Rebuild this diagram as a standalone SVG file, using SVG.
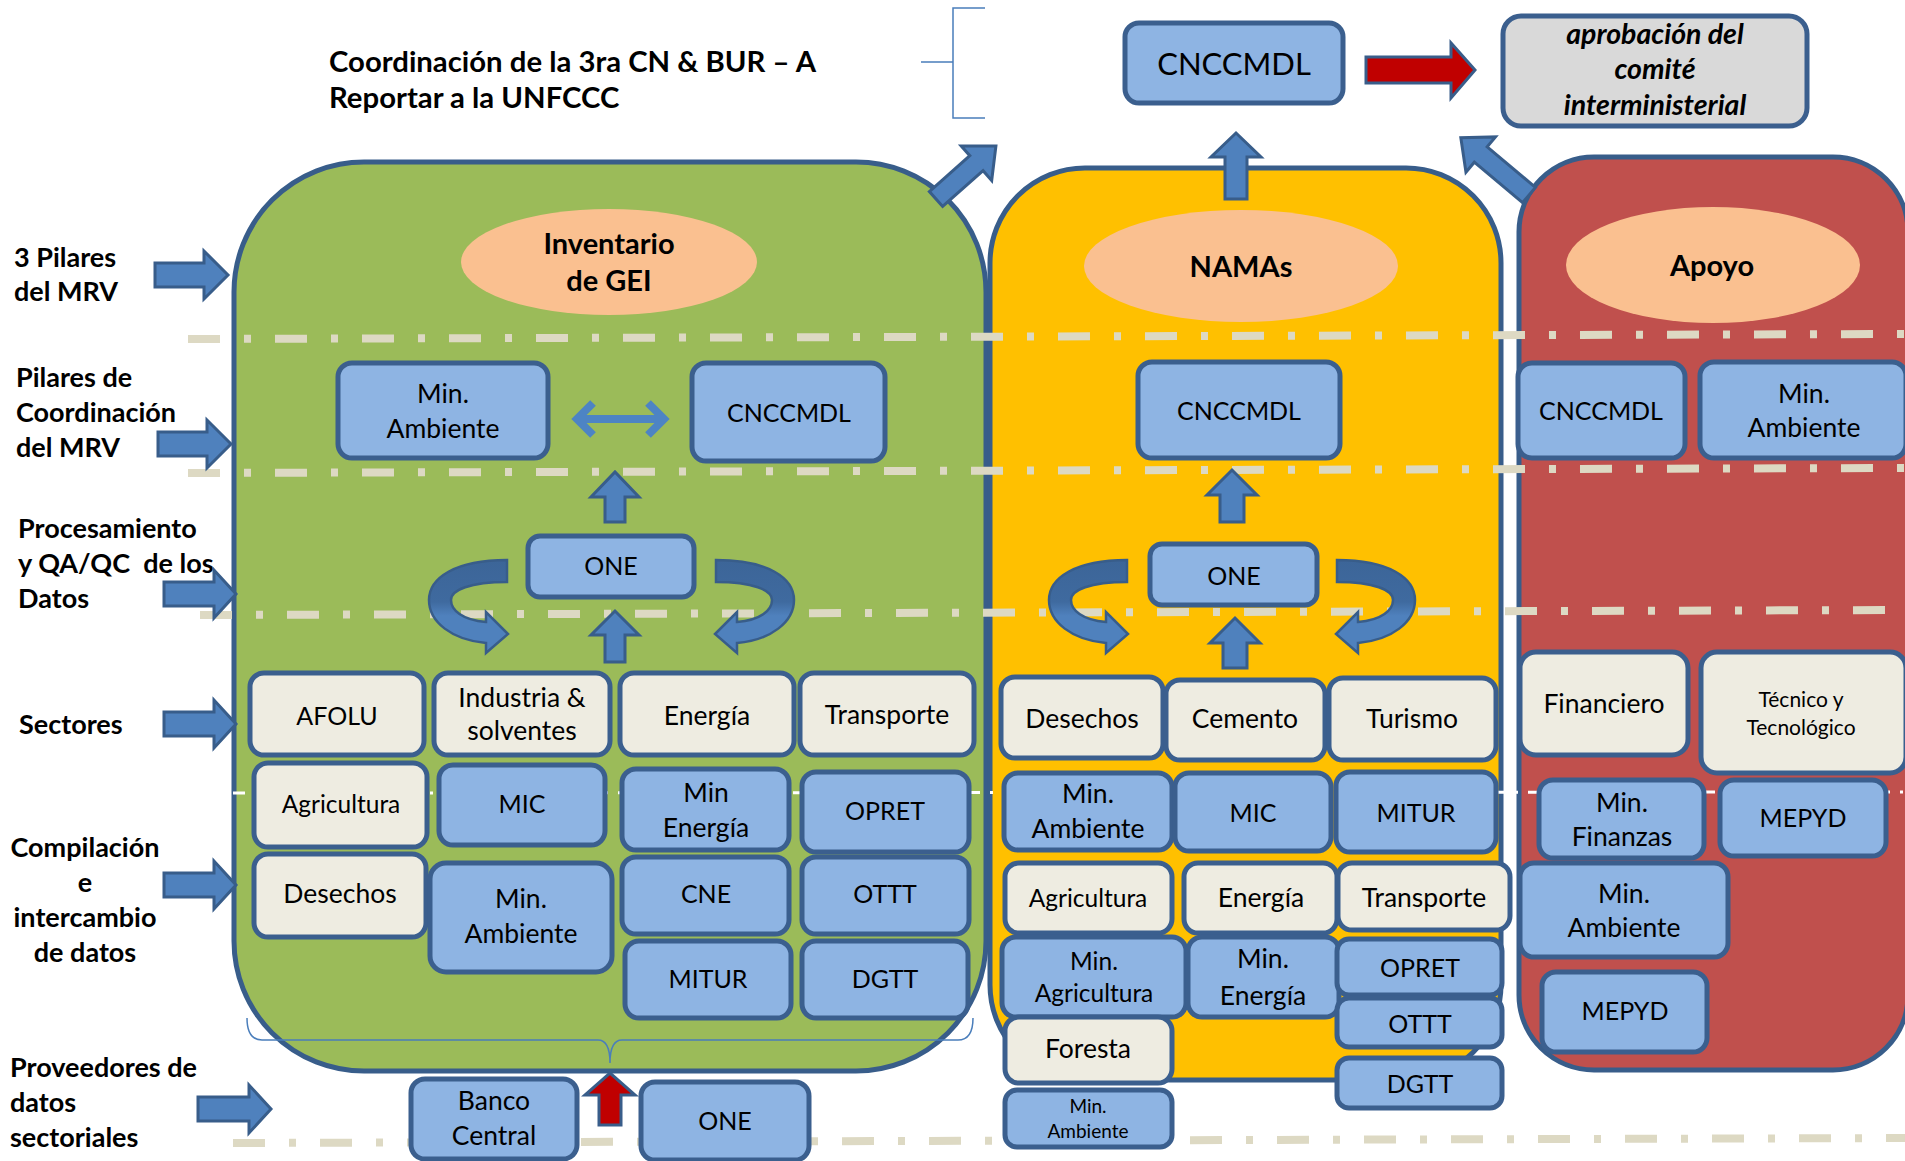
<svg xmlns="http://www.w3.org/2000/svg" width="1905" height="1161" viewBox="0 0 1905 1161">
<style>
.box{fill:#8eb4e3;stroke:#3b5f8e;stroke-width:5}
.beige{fill:#eeece1;stroke:#3b5f8e;stroke-width:5}
.t{font-family:Lato,"Open Sans","Liberation Sans",sans-serif;font-size:26.5px;text-anchor:middle;fill:#000}
.c{font-size:25px}
.s22{font-size:24.5px}
.s20{font-size:21px}
.s19{font-size:19px}
.lbl{font-family:Lato,"Open Sans","Liberation Sans",sans-serif;font-weight:bold;font-size:27px;fill:#000}
.ell{font-size:29px}
.sep{stroke:#ddd9c3;stroke-width:8;stroke-dasharray:32 24 7 24;fill:none}
.arr{fill:#4f81bd;stroke:#385d8a;stroke-width:3}
.red{fill:#c00000;stroke:#385d8a;stroke-width:3}
.brk{fill:none;stroke:#4a7ebb;stroke-width:1.5}
.panel{stroke:#385d8a;stroke-width:5}
.ap{font-weight:bold;font-style:italic;font-size:28.5px}
</style>
<defs>
<linearGradient id="cg" x1="0" y1="0" x2="0" y2="1">
<stop offset="0" stop-color="#3c6598"/>
<stop offset="0.45" stop-color="#3f6a9f"/>
<stop offset="0.6" stop-color="#4f81bd"/>
<stop offset="1" stop-color="#4f81bd"/>
</linearGradient>
<path id="curv" d="M0,0 C-52,0 -78,18 -78,40 C-78,62 -55,80 -21,83 L-21,93 L1,74 L-21,52 L-21,62 C-45,60 -56,50 -56,40 C-56,30 -37,22 0,22 Z" fill="url(#cg)" stroke="#385d8a" stroke-width="2.5"/>
</defs>
<rect width="1905" height="1161" fill="#fff"/>

<!-- title -->
<g id="title">
<text class="lbl" x="329" y="72" style="font-size:29.3px">Coordinación de la 3ra CN &amp; BUR – A</text>
<text class="lbl" x="329" y="108" style="font-size:29.3px">Reportar a la UNFCCC</text>
</g>

<!-- left labels -->
<g id="labels">
<text class="lbl" x="14" y="267">3 Pilares</text>
<text class="lbl" x="14" y="301">del MRV</text>
<text class="lbl" x="16" y="387">Pilares de</text>
<text class="lbl" x="16" y="422">Coordinación</text>
<text class="lbl" x="16" y="457">del MRV</text>
<text class="lbl" x="18" y="538">Procesamiento</text>
<text class="lbl" x="18" y="573" xml:space="preserve">y QA/QC  de los</text>
<text class="lbl" x="18" y="608">Datos</text>
<text class="lbl" x="19" y="734">Sectores</text>
<text class="lbl" x="85" y="857" text-anchor="middle">Compilación</text>
<text class="lbl" x="85" y="892" text-anchor="middle">e</text>
<text class="lbl" x="85" y="927" text-anchor="middle">intercambio</text>
<text class="lbl" x="85" y="962" text-anchor="middle">de datos</text>
<text class="lbl" x="10" y="1077">Proveedores de</text>
<text class="lbl" x="10" y="1112">datos</text>
<text class="lbl" x="10" y="1147">sectoriales</text>
</g>

<!-- panels -->
<g id="panel-gei"><rect class="panel" x="234" y="162" width="752" height="909" rx="130" fill="#9bbb59"/></g>
<g id="panel-namas"><rect class="panel" x="990" y="168" width="511" height="912" rx="95" fill="#ffc000"/></g>
<g id="panel-apoyo"><rect class="panel" x="1519" y="157" width="389" height="913" rx="75" fill="#c0504d"/></g>

<!-- separators -->
<g id="separators">
<line class="sep" x1="188" y1="339" x2="1905" y2="334"/>
<line class="sep" x1="188" y1="473" x2="1905" y2="468"/>
<line class="sep" x1="200" y1="615" x2="1905" y2="610"/>
<line x1="233" y1="793" x2="1905" y2="792" stroke="#fff" stroke-width="3" stroke-dasharray="12 10 3 10"/>
<line class="sep" x1="233" y1="1143" x2="1905" y2="1138"/>
</g>

<!-- ellipses -->
<g id="ell-gei"><ellipse cx="609" cy="262" rx="148" ry="53" fill="#fac090"/>
<text class="lbl ell" x="609" y="254" text-anchor="middle">Inventario</text>
<text class="lbl ell" x="609" y="291" text-anchor="middle">de GEI</text></g>
<g id="ell-namas"><ellipse cx="1241" cy="266" rx="157" ry="56" fill="#fac090"/>
<text class="lbl ell" x="1241" y="277" text-anchor="middle">NAMAs</text></g>
<g id="ell-apoyo"><ellipse cx="1713" cy="265" rx="147" ry="58" fill="#fac090"/>
<text class="lbl ell" x="1712" y="276" text-anchor="middle">Apoyo</text></g>

<!-- connectors -->
<g id="connectors">
<path class="brk" d="M985,8 H953 V118 H985 M921,62 H953"/>
<path class="brk" d="M247,1018 Q247,1040 262,1040 H598 Q610,1040 610,1063 Q610,1040 622,1040 H958 Q973,1040 973,1018"/>
<path class="arr" d="M155,263 H204 V251 L228,275 L204,299 V287 H155 Z"/>
<path class="arr" d="M158,432 H207 V420 L231,444 L207,468 V456 H158 Z"/>
<path class="arr" d="M164,582 H214 V570 L236,594 L214,618 V606 H164 Z"/>
<path class="arr" d="M164,712 H214 V700 L236,724 L214,748 V736 H164 Z"/>
<path class="arr" d="M164,873 H214 V861 L236,885 L214,909 V897 H164 Z"/>
<path class="arr" d="M198,1097 H249 V1085 L271,1109 L249,1133 V1121 H198 Z"/>
<path class="arr" d="M605,522 V497 H591 L615,472 L639,497 H625 V522 Z"/>
<path class="arr" d="M605,662 V635 H591 L615,611 L639,635 H625 V662 Z"/>
<path class="arr" d="M1220,522 V495 H1207 L1232,470 L1257,495 H1244 V522 Z"/>
<path class="arr" d="M1223,668 V643 H1210 L1235,618 L1260,643 H1247 V668 Z"/>
<path class="arr" d="M1225,199 V157 H1211 L1236,133 L1261,157 H1247 V199 Z"/>
<path class="red" d="M599,1125 V1095 H585 L610,1073 L635,1095 H621 V1125 Z"/>
<path class="arr" transform="translate(936,199) rotate(-41.5)" d="M0,-10 H54 V-23 L80,0 L54,23 V10 H0 Z"/>
<path class="arr" transform="translate(1529,195) rotate(-140)" d="M0,-10 H63 V-23 L89,0 L63,23 V10 H0 Z"/>
<path class="red" d="M1366,57 H1451 V43 L1475,70 L1451,98 V83 H1366 Z"/>
<path d="M582,419 H659 M593,403 L577,419 L593,435 M648,403 L664,419 L648,435" fill="none" stroke="#4d84c4" stroke-width="8"/>
<use href="#curv" transform="translate(507,560)"/>
<use href="#curv" transform="translate(716,560) scale(-1,1)"/>
<use href="#curv" transform="translate(1127,560)"/>
<use href="#curv" transform="translate(1337,560) scale(-1,1)"/>
</g>

<!-- top nodes -->
<g id="top-cnc"><rect class="box" x="1125" y="23" width="218" height="80" rx="14"/><text class="t" x="1234" y="75" style="font-size:31px">CNCCMDL</text></g>
<g id="aprob"><rect x="1503" y="16" width="304" height="110" rx="18" fill="#d9d9d9" stroke="#3b5f8e" stroke-width="5"/>
<text class="t ap" x="1655" y="44">aprobación del</text>
<text class="t ap" x="1655" y="79">comité</text>
<text class="t ap" x="1655" y="115">interministerial</text></g>

<!-- green nodes -->
<g id="g-minamb"><rect class="box" x="338" y="363" width="210" height="95" rx="14"/><text class="t" x="443" y="403">Min.</text><text class="t" x="443" y="438">Ambiente</text></g>
<g id="g-cnc"><rect class="box" x="692" y="363" width="193" height="98" rx="14"/><text class="t c" x="789" y="422">CNCCMDL</text></g>
<g id="g-one"><rect class="box" x="528" y="536" width="166" height="61" rx="12"/><text class="t c" x="611" y="575">ONE</text></g>
<g id="g-afolu"><rect class="beige" x="250" y="673" width="174" height="82" rx="14"/><text class="t c" x="337" y="725">AFOLU</text></g>
<g id="g-ind"><rect class="beige" x="434" y="673" width="176" height="82" rx="14"/><text class="t" x="522" y="707">Industria &amp;</text><text class="t" x="522" y="740">solventes</text></g>
<g id="g-ener"><rect class="beige" x="620" y="673" width="174" height="82" rx="14"/><text class="t" x="707" y="725">Energía</text></g>
<g id="g-trans"><rect class="beige" x="800" y="673" width="174" height="82" rx="14"/><text class="t" x="887" y="724">Transporte</text></g>
<g id="g-agri"><rect class="beige" x="254" y="763" width="173" height="84" rx="14"/><text class="t s22" x="341" y="813">Agricultura</text></g>
<g id="g-mic"><rect class="box" x="439" y="765" width="166" height="80" rx="14"/><text class="t c" x="522" y="813">MIC</text></g>
<g id="g-minener"><rect class="box" x="622" y="769" width="167" height="81" rx="14"/><text class="t" x="706" y="802">Min</text><text class="t" x="706" y="837">Energía</text></g>
<g id="g-opret"><rect class="box" x="802" y="772" width="167" height="80" rx="14"/><text class="t c" x="885" y="820">OPRET</text></g>
<g id="g-desechos"><rect class="beige" x="254" y="854" width="172" height="83" rx="14"/><text class="t" x="340" y="903">Desechos</text></g>
<g id="g-minamb2"><rect class="box" x="430" y="863" width="182" height="109" rx="16"/><text class="t" x="521" y="908">Min.</text><text class="t" x="521" y="943">Ambiente</text></g>
<g id="g-cne"><rect class="box" x="622" y="857" width="167" height="77" rx="14"/><text class="t c" x="706" y="903">CNE</text></g>
<g id="g-ottt"><rect class="box" x="802" y="857" width="167" height="77" rx="14"/><text class="t c" x="885" y="903">OTTT</text></g>
<g id="g-mitur"><rect class="box" x="625" y="941" width="166" height="77" rx="14"/><text class="t c" x="708" y="988">MITUR</text></g>
<g id="g-dgtt"><rect class="box" x="802" y="941" width="166" height="77" rx="14"/><text class="t c" x="885" y="988">DGTT</text></g>
<g id="p-banco"><rect class="box" x="411" y="1079" width="166" height="80" rx="14"/><text class="t" x="494" y="1110">Banco</text><text class="t" x="494" y="1145">Central</text></g>
<g id="p-one"><rect class="box" x="641" y="1082" width="168" height="78" rx="14"/><text class="t c" x="725" y="1130">ONE</text></g>

<!-- yellow nodes -->
<g id="y-cnc"><rect class="box" x="1138" y="362" width="202" height="96" rx="14"/><text class="t c" x="1239" y="420">CNCCMDL</text></g>
<g id="y-one"><rect class="box" x="1150" y="544" width="167" height="61" rx="12"/><text class="t c" x="1234" y="585">ONE</text></g>
<g id="y-desechos"><rect class="beige" x="1001" y="677" width="162" height="81" rx="14"/><text class="t" x="1082" y="728">Desechos</text></g>
<g id="y-cemento"><rect class="beige" x="1166" y="680" width="159" height="80" rx="14"/><text class="t" x="1245" y="728">Cemento</text></g>
<g id="y-turismo"><rect class="beige" x="1329" y="678" width="167" height="82" rx="14"/><text class="t" x="1412" y="728">Turismo</text></g>
<g id="y-minamb"><rect class="box" x="1004" y="773" width="168" height="77" rx="14"/><text class="t" x="1088" y="803">Min.</text><text class="t" x="1088" y="838">Ambiente</text></g>
<g id="y-mic"><rect class="box" x="1175" y="773" width="156" height="78" rx="14"/><text class="t c" x="1253" y="822">MIC</text></g>
<g id="y-mitur"><rect class="box" x="1336" y="772" width="160" height="80" rx="14"/><text class="t c" x="1416" y="822">MITUR</text></g>
<g id="y-agri"><rect class="beige" x="1005" y="863" width="167" height="70" rx="14"/><text class="t s22" x="1088" y="907">Agricultura</text></g>
<g id="y-ener"><rect class="beige" x="1184" y="863" width="153" height="70" rx="14"/><text class="t" x="1261" y="907">Energía</text></g>
<g id="y-trans"><rect class="beige" x="1338" y="863" width="172" height="67" rx="14"/><text class="t" x="1424" y="907">Transporte</text></g>
<g id="y-minagri"><rect class="box" x="1002" y="937" width="184" height="80" rx="14"/><text class="t s22" x="1094" y="970">Min.</text><text class="t s22" x="1094" y="1002">Agricultura</text></g>
<g id="y-minener"><rect class="box" x="1188" y="937" width="151" height="80" rx="14"/><text class="t" x="1263" y="968">Min.</text><text class="t" x="1263" y="1005">Energía</text></g>
<g id="y-opret"><rect class="box" x="1337" y="939" width="165" height="56" rx="12"/><text class="t c" x="1420" y="977">OPRET</text></g>
<g id="y-ottt"><rect class="box" x="1337" y="998" width="165" height="49" rx="12"/><text class="t c" x="1420" y="1033">OTTT</text></g>
<g id="y-dgtt"><rect class="box" x="1337" y="1058" width="165" height="50" rx="12"/><text class="t c" x="1420" y="1093">DGTT</text></g>
<g id="y-foresta"><rect class="beige" x="1005" y="1017" width="167" height="66" rx="14"/><text class="t" x="1088" y="1058">Foresta</text></g>
<g id="y-minamb2"><rect class="box" x="1005" y="1090" width="167" height="57" rx="12"/><text class="t s19" x="1088" y="1113">Min.</text><text class="t s19" x="1088" y="1138">Ambiente</text></g>

<!-- red nodes -->
<g id="r-cnc"><rect class="box" x="1518" y="363" width="167" height="95" rx="14"/><text class="t c" x="1601" y="420">CNCCMDL</text></g>
<g id="r-minamb"><rect class="box" x="1700" y="362" width="206" height="96" rx="14"/><text class="t" x="1804" y="403">Min.</text><text class="t" x="1804" y="437">Ambiente</text></g>
<g id="r-fin"><rect class="beige" x="1520" y="652" width="168" height="103" rx="16"/><text class="t" x="1604" y="713">Financiero</text></g>
<g id="r-tec"><rect class="beige" x="1701" y="652" width="205" height="121" rx="16"/><text class="t s20" x="1801" y="707">Técnico y</text><text class="t s20" x="1801" y="735">Tecnológico</text></g>
<g id="r-minfin"><rect class="box" x="1539" y="780" width="165" height="78" rx="14"/><text class="t" x="1622" y="812">Min.</text><text class="t" x="1622" y="846">Finanzas</text></g>
<g id="r-mepyd"><rect class="box" x="1720" y="780" width="166" height="76" rx="14"/><text class="t c" x="1803" y="827">MEPYD</text></g>
<g id="r-minamb2"><rect class="box" x="1520" y="863" width="208" height="94" rx="14"/><text class="t" x="1624" y="903">Min.</text><text class="t" x="1624" y="937">Ambiente</text></g>
<g id="r-mepyd2"><rect class="box" x="1542" y="972" width="165" height="80" rx="14"/><text class="t c" x="1625" y="1020">MEPYD</text></g>
</svg>
